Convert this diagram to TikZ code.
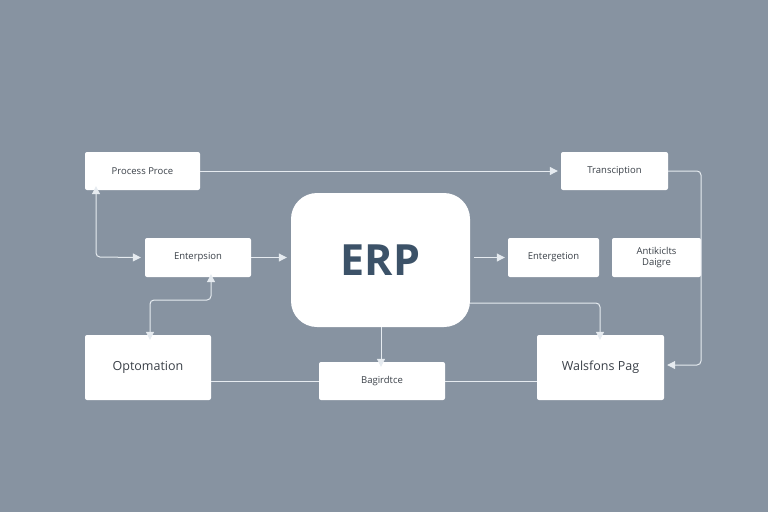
\documentclass[tikz,border=0pt]{standalone}
\usepackage{fontspec}
\setmainfont{Open Sans}
\usetikzlibrary{arrows.meta}
\definecolor{bg}{RGB}{135,147,161}
\definecolor{ln}{RGB}{230,235,240}
\definecolor{txt}{RGB}{58,64,72}
\definecolor{erpc}{RGB}{60,82,104}
\begin{document}
\begin{tikzpicture}[x=1pt,y=-1pt,
  box/.style={draw=none,fill=white,rounded corners=2pt,inner sep=0pt,text=txt,font=\fontsize{9.5}{11}\selectfont,align=center},
  conn/.style={draw=ln,line width=1pt,rounded corners=4pt},
  arr/.style={-{Triangle[length=8pt,width=8pt]}},
  darr/.style={{Triangle[length=8pt,width=8pt]}-{Triangle[length=8pt,width=8pt]}}]
\fill[bg] (0,0) rectangle (768,512);
\useasboundingbox (0,0) rectangle (768,512);
% boxes
\node[box,minimum width=115pt,minimum height=38pt] (pp) at (142.5,171) {Process Proce};
\node[box,minimum width=107pt,minimum height=38pt] (tr) at (614.5,171) {Transciption};
\node[box,minimum width=106pt,minimum height=39pt] (en) at (198,257.5) {Enterpsion};
\node[box,rounded corners=26pt,minimum width=179pt,minimum height=134pt,font=\fontsize{43}{48}\selectfont\bfseries,text=erpc] (erp) at (380.5,260) {ERP};
\node[box,minimum width=91pt,minimum height=39pt] (eg) at (553.5,257.5) {Entergetion};
\node[box,minimum width=89pt,minimum height=39pt,font=\fontsize{9.5}{11}\selectfont] (ad) at (656.5,257.5) {Antikiclts\\Daigre};
\node[box,minimum width=126pt,minimum height=65pt,font=\fontsize{12.5}{14}\selectfont] (op) at (148,367.5) {Optomation};
\node[box,minimum width=126pt,minimum height=38pt] (bg) at (382,381) {Bagirdtce};
\node[box,minimum width=127pt,minimum height=65pt,font=\fontsize{12.5}{14}\selectfont] (wp) at (600.5,367.5) {Walsfons Pag};
% connectors
\draw[conn,arr] (pp.east) -- ([xshift=-3pt]tr.west);
\draw[conn,arr] (tr.east) -- (701,171) -- (701,365) -- ([xshift=3pt]wp.east |- 0,365);
\draw[conn,darr] ([yshift=4pt]pp.south west -| 96,0) -- (96,257) -- ([xshift=-4pt]en.west);
\draw[conn,arr] (en.east) -- ([xshift=-4pt]erp.west |- en.east);
\draw[conn,darr] ([yshift=3pt]en.south -| 211,0) -- (211,300) -- (150,300) -- ([yshift=-5pt]op.north -| 150,0);
\draw[conn,arr] ([xshift=4pt]erp.east |- eg.west) -- ([xshift=-3pt]eg.west);
\draw[conn,arr] (erp.south -| 381,0) -- ([yshift=-5pt]bg.north -| 381,0);
\draw[conn,arr] (erp.east |- 0,303) -- (600,303) -- ([yshift=-5pt]wp.north -| 600,0);
\draw[conn] (op.east |- bg.west) -- (bg.west);
\draw[conn] (bg.east) -- (wp.west |- bg.east);
\end{tikzpicture}
\end{document}
